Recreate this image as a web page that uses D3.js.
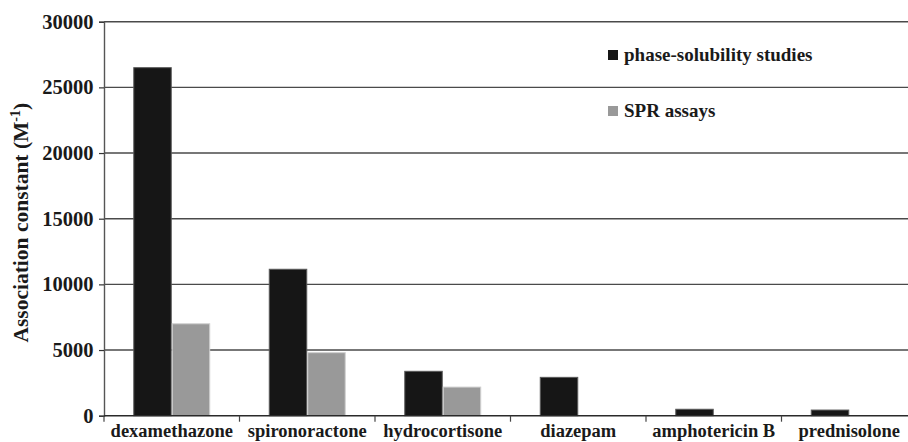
<!DOCTYPE html>
<html>
<head>
<meta charset="utf-8">
<script src="https://cdn.jsdelivr.net/npm/d3@7"></script>
<style>
  body { margin: 0; background: #fff; }
  text { font-family: "Liberation Serif", "Times New Roman", serif; font-weight: bold; fill: #1a1a1a; }
</style>
</head>
<body>
<div id="chart"></div>
<script>
// values
const categories = ["dexamethazone", "spironoractone", "hydrocortisone", "diazepam", "amphotericin B", "prednisolone"]
const seriesNames = ["phase-solubility studies", "SPR assays"]
const phaseSolubility = [26500, 11150, 3380, 2920, 490, 430]
const sprAssays = [7000, 4800, 2180, null, null, null]
const yTicks = [0, 5000, 10000, 15000, 20000, 25000, 30000]
const colors = ["#161616", "#999999"]
const edges = ["#5a5a5a", "#d0d0d0"]

const width = 908, height = 442
let margin = {top: 21.7, left: 104, bottom: 442 - 415.7}
// plot runs a little past the right edge of the picture
const plotRight = 917

let data = categories.map((c, i) => ({cat: c, values: [phaseSolubility[i], sprAssays[i]]}))

let svg = d3.select("#chart")
    .append("svg")
    .attr("width", width)
    .attr("height", height)

let x0 = d3.scaleBand()
    .domain(categories)
    .range([margin.left, plotRight])
    .padding(0)

let x1 = d3.scaleBand()
    .domain(seriesNames)
    .range([x0.bandwidth() * 0.216, x0.bandwidth() * 0.784])
    .padding(0)

let y = d3.scaleLinear()
    .domain([0, 30000])
    .range([height - margin.bottom, margin.top])

// gridlines
svg.append("g")
    .selectAll("line")
    .data(yTicks.filter(d => d > 0))
    .join("line")
    .attr("x1", margin.left)
    .attr("x2", width)
    .attr("y1", d => y(d))
    .attr("y2", d => y(d))
    .attr("stroke", "#4a4a4a")
    .attr("stroke-width", 1.4)

// bars
let groups = svg.append("g")
    .selectAll("g")
    .data(data)
    .join("g")
    .attr("transform", d => "translate(" + x0(d.cat) + ",0)")

groups.selectAll("rect")
    .data(d => d.values.map((v, i) => ({series: seriesNames[i], i: i, v: v})).filter(d => d.v != null))
    .join("rect")
    .attr("x", d => x1(d.series) + 0.5)
    .attr("y", d => y(d.v))
    .attr("width", x1.bandwidth() - 1)
    .attr("height", d => y(0) - y(d.v))
    .attr("fill", d => colors[d.i])
    .attr("stroke", d => edges[d.i])
    .attr("stroke-width", 1)

// y axis
let yAxis = svg.append("g")
    .attr("transform", "translate(" + margin.left + ",0)")
    .call(d3.axisLeft(y).tickValues(yTicks).tickSize(5).tickPadding(5.5).tickFormat(d3.format("d")))
yAxis.select(".domain").attr("stroke", "#555").attr("stroke-width", 1.4)
yAxis.selectAll(".tick line").attr("stroke", "#333").attr("stroke-width", 1.2)
yAxis.selectAll(".tick text")
    .attr("font-size", 20.5)
    .attr("font-family", null)
    .attr("fill", "#1a1a1a")

// x axis
let xAxis = svg.append("g")
    .attr("transform", "translate(0," + y(0) + ")")
xAxis.append("line")
    .attr("x1", margin.left)
    .attr("x2", width)
    .attr("stroke", "#2a2a2a")
    .attr("stroke-width", 1.6)
xAxis.selectAll(".xtick")
    .data(categories)
    .join("line")
    .attr("class", "xtick")
    .attr("x1", d => x0(d))
    .attr("x2", d => x0(d))
    .attr("y1", 0)
    .attr("y2", 6)
    .attr("stroke", "#444")
    .attr("stroke-width", 1.2)
xAxis.selectAll(".xlabel")
    .data(categories)
    .join("text")
    .attr("class", "xlabel")
    .attr("x", d => x0(d) + x0.bandwidth() / 2)
    .attr("y", 21.3)
    .attr("text-anchor", "middle")
    .attr("font-size", 18.5)
    .text(d => d)

// y title
let title = svg.append("text")
    .attr("transform", "translate(28," + ((y(0) + y(30000)) / 2 + 4) + ") rotate(-90)")
    .attr("text-anchor", "middle")
    .attr("font-size", 21.5)
title.append("tspan").text("Association constant (M")
title.append("tspan").attr("font-size", 14).attr("dy", -8).text("-1")
title.append("tspan").attr("dy", 8).text(")")

// legend
let legend = svg.append("g")
    .selectAll("g")
    .data(seriesNames)
    .join("g")
    .attr("transform", (d, i) => "translate(0," + (61 + i * 56) + ")")
legend.append("rect")
    .attr("x", 608)
    .attr("y", -11)
    .attr("width", 10)
    .attr("height", 10)
    .attr("fill", (d, i) => colors[i])
legend.append("text")
    .attr("x", 624)
    .attr("y", 0)
    .attr("font-size", 19)
    .text(d => d)
</script>
</body>
</html>
